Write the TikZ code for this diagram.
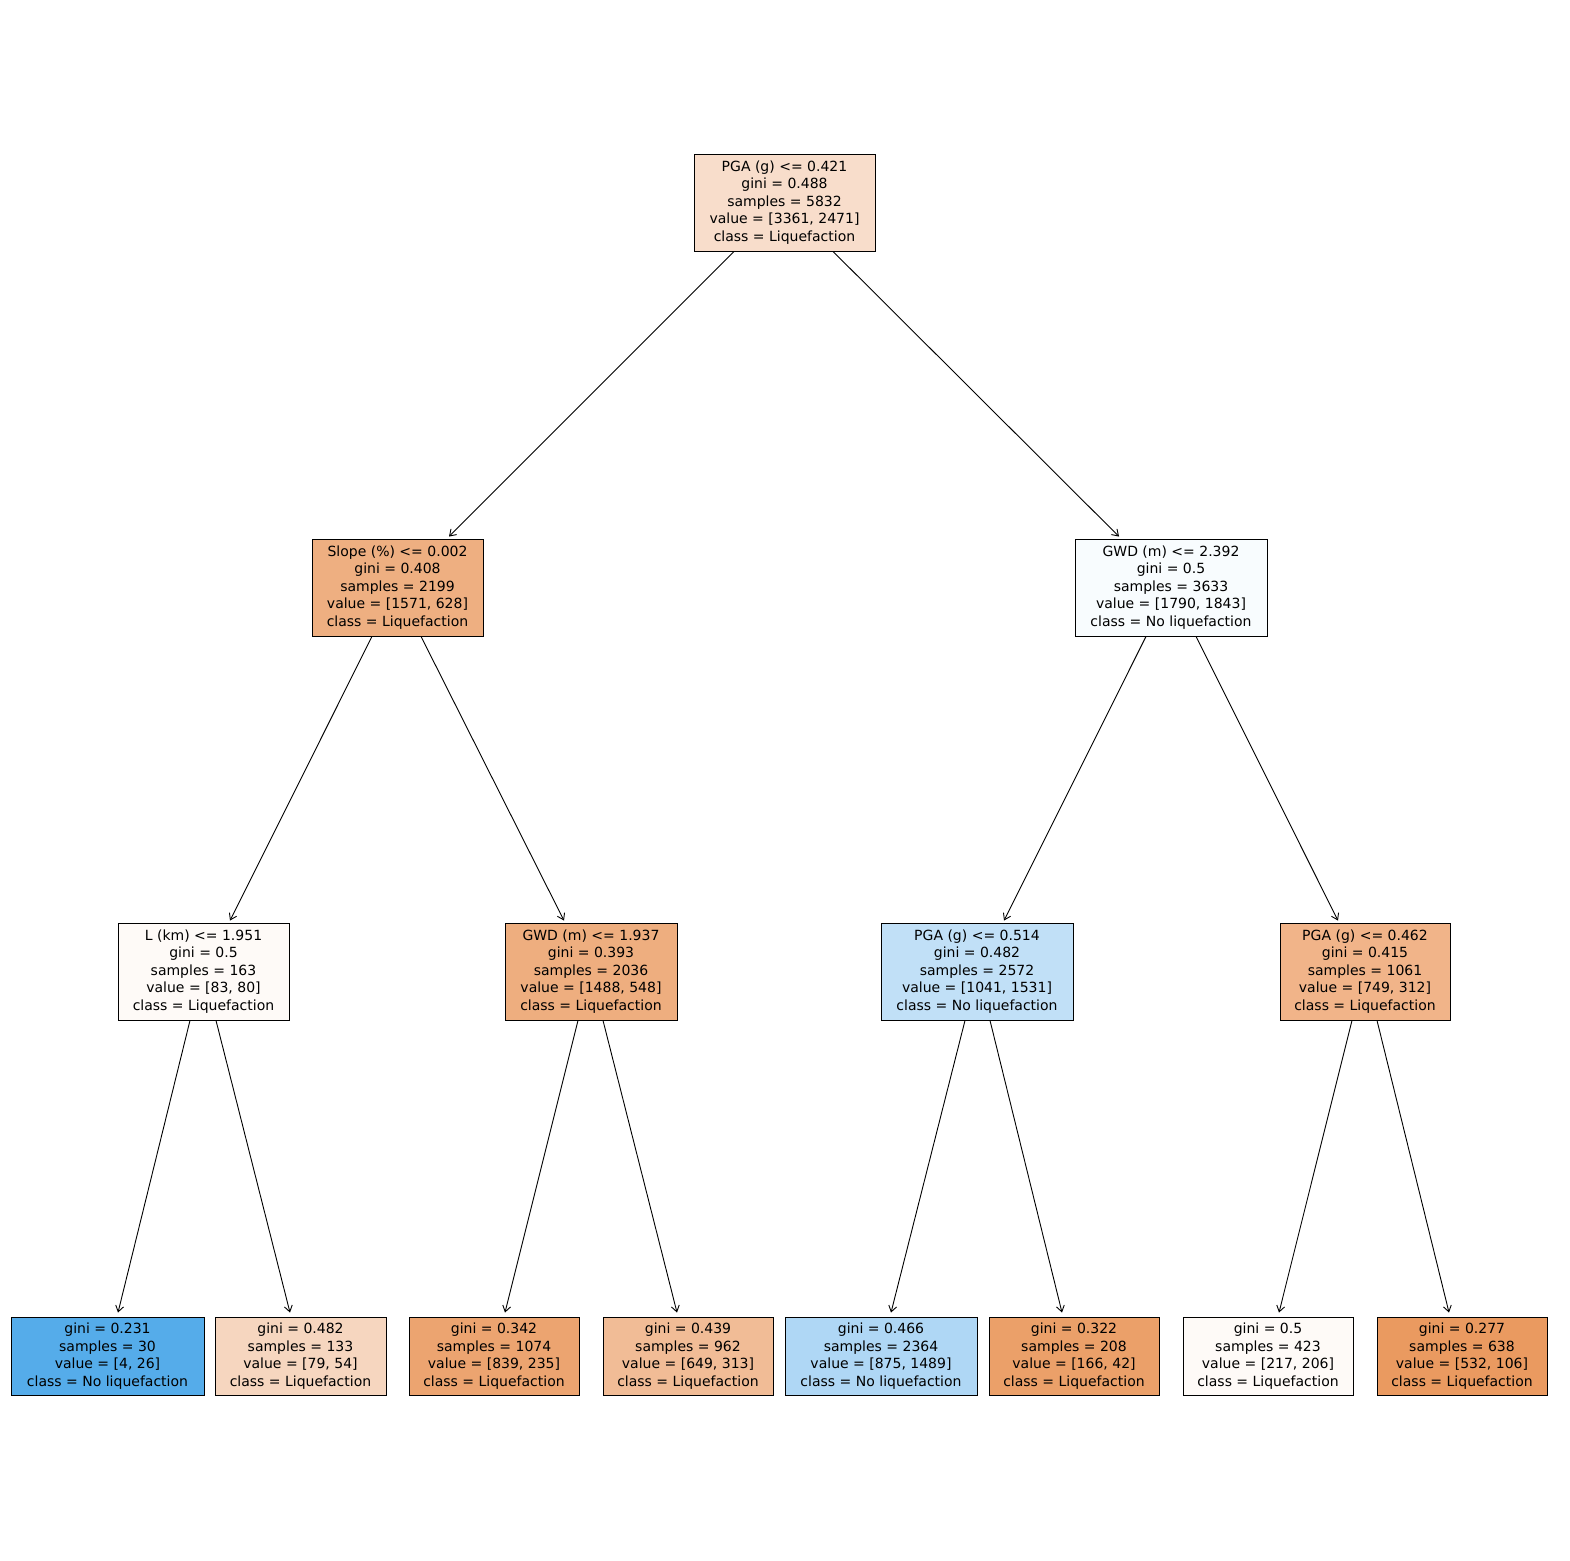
\documentclass[tikz,border=0pt]{standalone}
\usepackage{fontspec}
\setmainfont{DejaVu Sans}
\usetikzlibrary{arrows.meta,calc}
\begin{document}
\begin{tikzpicture}[x=1pt,y=-1pt,
  tn/.style={draw=black,line width=0.9pt,align=center,inner sep=0pt,font=\fontsize{14}{17.5}\selectfont},
  inner/.style={tn,minimum height=97pt},
  leaf/.style={tn,minimum height=78pt},
  ed/.style={line width=0.9pt,-{Straight Barb[length=6pt,width=8pt]}}]
\useasboundingbox (0,0) rectangle (1570,1560);
\node[inner,minimum width=181pt,fill={rgb,255:red,248;green,221;blue,203}] (root) at (784.5,202.5) {PGA (g) <= 0.421\\gini = 0.488\\samples = 5832\\value = [3361, 2471]\\class = Liquefaction};
\node[inner,minimum width=171pt,fill={rgb,255:red,238;green,175;blue,129}] (slope) at (397.5,587.5) {Slope (\%) <= 0.002\\gini = 0.408\\samples = 2199\\value = [1571, 628]\\class = Liquefaction};
\node[inner,minimum width=192pt,fill={rgb,255:red,248;green,252;blue,254}] (gwda) at (1171,587.5) {GWD (m) <= 2.392\\gini = 0.5\\samples = 3633\\value = [1790, 1843]\\class = No liquefaction};
\node[inner,minimum width=171pt,fill={rgb,255:red,254;green,250;blue,247}] (lkm) at (203.5,971.5) {L (km) <= 1.951\\gini = 0.5\\samples = 163\\value = [83, 80]\\class = Liquefaction};
\node[inner,minimum width=172pt,fill={rgb,255:red,238;green,174;blue,127}] (gwdb) at (591,971.5) {GWD (m) <= 1.937\\gini = 0.393\\samples = 2036\\value = [1488, 548]\\class = Liquefaction};
\node[inner,minimum width=192pt,fill={rgb,255:red,193;green,224;blue,247}] (pgab) at (977,971.5) {PGA (g) <= 0.514\\gini = 0.482\\samples = 2572\\value = [1041, 1531]\\class = No liquefaction};
\node[inner,minimum width=170pt,fill={rgb,255:red,241;green,180;blue,137}] (pgac) at (1365,971.5) {PGA (g) <= 0.462\\gini = 0.415\\samples = 1061\\value = [749, 312]\\class = Liquefaction};
\node[leaf,minimum width=193pt,fill={rgb,255:red,85;green,172;blue,234}] (l1) at (107.5,1356) {gini = 0.231\\samples = 30\\value = [4, 26]\\class = No liquefaction};
\node[leaf,minimum width=171pt,fill={rgb,255:red,246;green,214;blue,191}] (l2) at (300.5,1356) {gini = 0.482\\samples = 133\\value = [79, 54]\\class = Liquefaction};
\node[leaf,minimum width=170pt,fill={rgb,255:red,236;green,164;blue,112}] (l3) at (494,1356) {gini = 0.342\\samples = 1074\\value = [839, 235]\\class = Liquefaction};
\node[leaf,minimum width=170pt,fill={rgb,255:red,241;green,188;blue,150}] (l4) at (688,1356) {gini = 0.439\\samples = 962\\value = [649, 313]\\class = Liquefaction};
\node[leaf,minimum width=192pt,fill={rgb,255:red,175;green,215;blue,245}] (l5) at (881,1356) {gini = 0.466\\samples = 2364\\value = [875, 1489]\\class = No liquefaction};
\node[leaf,minimum width=170pt,fill={rgb,255:red,235;green,160;blue,105}] (l6) at (1074,1356) {gini = 0.322\\samples = 208\\value = [166, 42]\\class = Liquefaction};
\node[leaf,minimum width=170pt,fill={rgb,255:red,254;green,250;blue,247}] (l7) at (1268,1356) {gini = 0.5\\samples = 423\\value = [217, 206]\\class = Liquefaction};
\node[leaf,minimum width=170pt,fill={rgb,255:red,234;green,154;blue,96}] (l8) at (1462,1356) {gini = 0.277\\samples = 638\\value = [532, 106]\\class = Liquefaction};
\draw[ed] ($(root.south)+(-50.5,0)$) -- ($(slope.north)+(51.5,-2)$);
\draw[ed] ($(root.south)+(48.5,0)$) -- ($(gwda.north)+(-52,-2)$);
\draw[ed] ($(slope.south)+(-25.5,0)$) -- ($(lkm.north)+(26.5,-2)$);
\draw[ed] ($(slope.south)+(23.5,0)$) -- ($(gwdb.north)+(-27,-2)$);
\draw[ed] ($(gwda.south)+(-25,0)$) -- ($(pgab.north)+(27,-2)$);
\draw[ed] ($(gwda.south)+(25,0)$) -- ($(pgac.north)+(-27,-2)$);
\draw[ed] ($(lkm.south)+(-13.5,0)$) -- ($(l1.north)+(10.5,-4)$);
\draw[ed] ($(lkm.south)+(12.5,0)$) -- ($(l2.north)+(-10.5,-4)$);
\draw[ed] ($(gwdb.south)+(-13,0)$) -- ($(l3.north)+(11,-4)$);
\draw[ed] ($(gwdb.south)+(12,0)$) -- ($(l4.north)+(-11,-4)$);
\draw[ed] ($(pgab.south)+(-12,0)$) -- ($(l5.north)+(10,-4)$);
\draw[ed] ($(pgab.south)+(13,0)$) -- ($(l6.north)+(-12,-4)$);
\draw[ed] ($(pgac.south)+(-13,0)$) -- ($(l7.north)+(11,-4)$);
\draw[ed] ($(pgac.south)+(12,0)$) -- ($(l8.north)+(-13,-4)$);
\end{tikzpicture}
\end{document}
